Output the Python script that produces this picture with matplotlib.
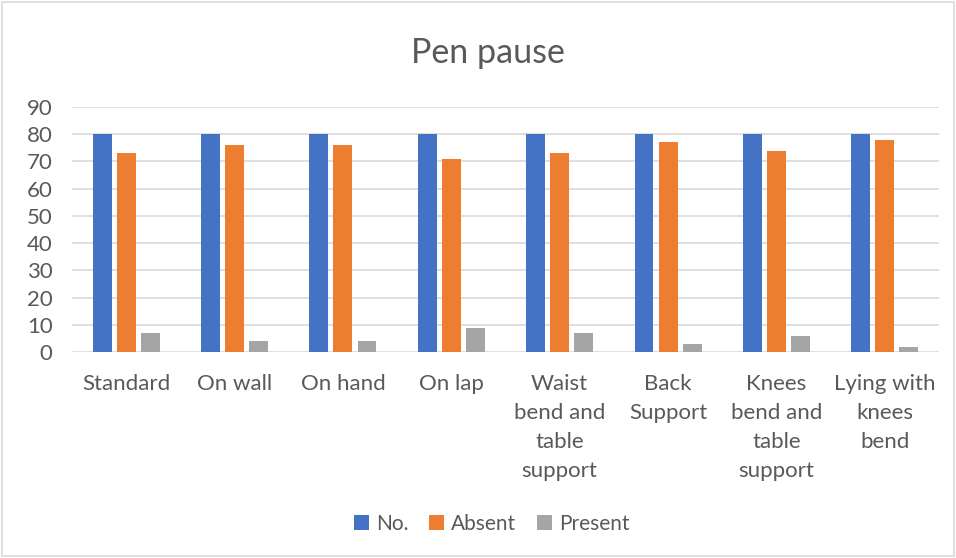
import matplotlib
matplotlib.use("Agg")
import matplotlib.pyplot as plt
import numpy as np
from matplotlib.patches import Rectangle

categories = ["Standard", "On wall", "On hand", "On lap",
              "Waist\nbend and\ntable\nsupport", "Back\nSupport",
              "Knees\nbend and\ntable\nsupport", "Lying with\nknees\nbend"]
series_names = ["No.", "Absent", "Present"]
no_vals = [80, 80, 80, 80, 80, 80, 80, 80]
absent_vals = [73, 76, 76, 71, 73, 77, 74, 78]
present_vals = [7, 4, 4, 9, 7, 3, 6, 2]
colors = ["#4472C4", "#ED7D31", "#A5A5A5"]
yticks = [0, 10, 20, 30, 40, 50, 60, 70, 80, 90]

plt.rcParams['font.family'] = ['Lato', 'DejaVu Sans']
W, H = 956, 558
fig = plt.figure(figsize=(W/100, H/100), dpi=100)
fig.patches.append(Rectangle((2/W, 2/H), 1-4/W, 1-4/H, transform=fig.transFigure,
                             fill=False, edgecolor="#D9D9D9", linewidth=1.2))

left, right, top, bottom = 72, 939, 107, 352
ax = fig.add_axes([left/W, 1-bottom/H, (right-left)/W, (bottom-top)/H])

x = np.arange(len(categories))
bw = 0.175
step = 0.222
for i, (vals, name, c) in enumerate(zip([no_vals, absent_vals, present_vals], series_names, colors)):
    ax.bar(x + (i-1)*step, vals, width=bw, color=c, label=name, zorder=3)

ax.set_xlim(-0.5, len(categories)-0.5)
ax.set_ylim(0, 90)
ax.set_yticks(yticks)
ax.yaxis.grid(True, color="#D9D9D9", linewidth=1.2, zorder=0)
ax.set_axisbelow(True)
for s in ax.spines.values():
    s.set_visible(False)
ax.tick_params(axis='both', length=0, labelsize=16, colors="#595959")
ax.set_xticks(x)
ax.set_xticklabels(categories, va='top', linespacing=1.56)
ax.tick_params(axis='x', pad=16)
ax.tick_params(axis='y', pad=14)

fig.text(488/W, 1-53/H, "Pen pause", ha='center', va='center', fontsize=24.5, color="#595959")

leg = fig.legend(loc='center', bbox_to_anchor=(492/W, 1-524/H), ncol=3, frameon=False,
                 fontsize=15, handlelength=0.7, handleheight=0.7, handletextpad=0.35,
                 columnspacing=1.0)
for t in leg.get_texts():
    t.set_color("#595959")

fig.savefig("out.png", dpi=100, facecolor="white")
